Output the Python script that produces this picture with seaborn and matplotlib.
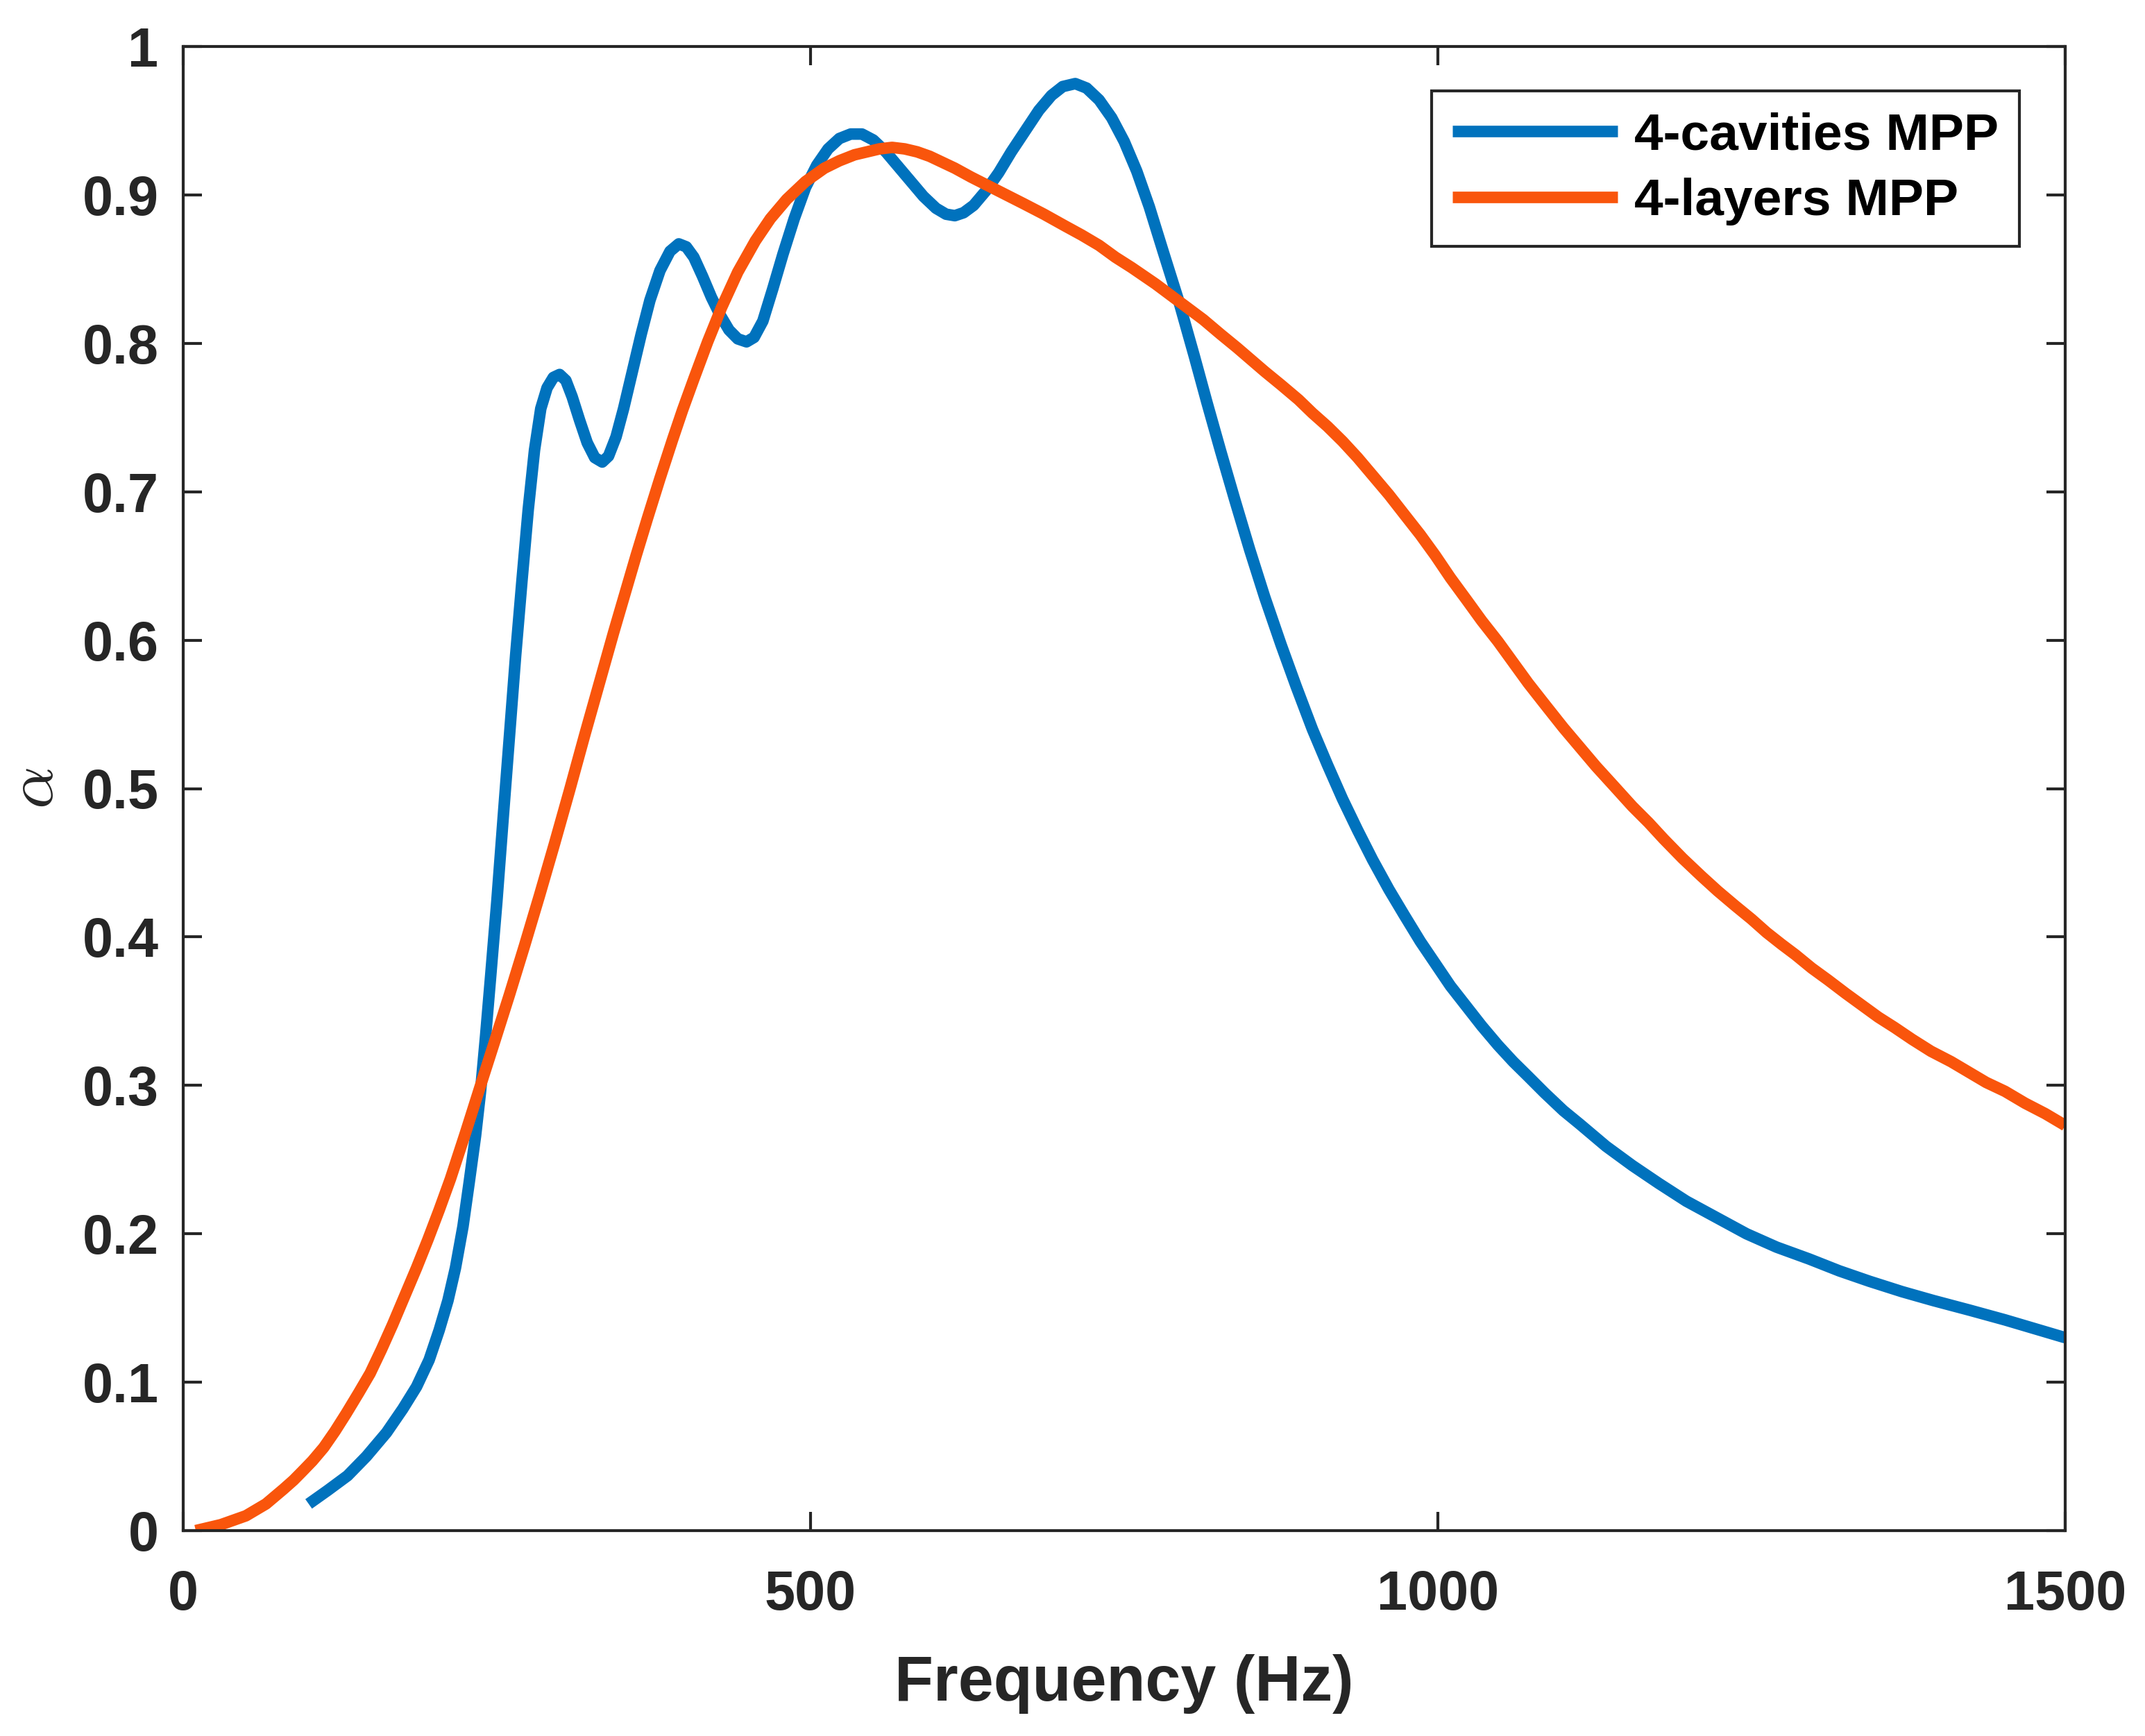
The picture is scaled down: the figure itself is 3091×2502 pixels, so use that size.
import numpy as np
import pandas as pd
import seaborn as sns
import matplotlib
matplotlib.use("Agg")
import matplotlib.pyplot as plt

# ---------------- data ----------------
freq_cavities = [100, 115, 131, 146, 162, 175, 186, 196, 204, 211, 217, 223, 228, 233,
                 237, 241, 245, 250, 255, 260, 265, 270, 275, 280, 285, 290, 295, 300,
                 305, 310, 316, 322, 328, 334, 339, 345, 351, 358, 365, 372, 380, 388,
                 395, 401, 407, 414, 421, 428, 435, 442, 449, 455, 462, 470, 478, 487,
                 496, 505, 514, 523, 532, 541, 550, 560, 570, 580, 590, 600, 608, 615,
                 622, 630, 640, 650, 660, 671, 682, 692, 701, 711, 720, 730, 740, 750,
                 760, 770, 781, 794, 806, 816, 827, 838, 850, 862, 875, 887, 900, 912,
                 924, 936, 948, 961, 973, 986, 998, 1010, 1023, 1035, 1048, 1060, 1072,
                 1085, 1100, 1113, 1134, 1155, 1176, 1198, 1222, 1246, 1270, 1296, 1320,
                 1344, 1370, 1395, 1424, 1452, 1476, 1500]
alpha_cavities = [0.018, 0.027, 0.037, 0.050, 0.066, 0.082, 0.097, 0.115, 0.135, 0.155,
                  0.177, 0.205, 0.235, 0.266, 0.296, 0.333, 0.373, 0.424, 0.480, 0.535,
                  0.590, 0.640, 0.688, 0.728, 0.756, 0.770, 0.777, 0.779, 0.775, 0.764,
                  0.748, 0.733, 0.723, 0.720, 0.724, 0.737, 0.756, 0.781, 0.806, 0.829,
                  0.849, 0.862, 0.867, 0.865, 0.858, 0.845, 0.831, 0.819, 0.809, 0.803,
                  0.801, 0.804, 0.815, 0.837, 0.860, 0.884, 0.905, 0.920, 0.931, 0.938,
                  0.941, 0.941, 0.937, 0.929, 0.919, 0.909, 0.899, 0.891, 0.887, 0.886,
                  0.888, 0.893, 0.903, 0.915, 0.929, 0.943, 0.957, 0.967, 0.973, 0.975,
                  0.972, 0.964, 0.952, 0.936, 0.916, 0.892, 0.862, 0.827, 0.791, 0.760,
                  0.727, 0.695, 0.661, 0.629, 0.597, 0.569, 0.540, 0.516, 0.493, 0.472,
                  0.452, 0.432, 0.415, 0.397, 0.382, 0.367, 0.353, 0.340, 0.327, 0.316,
                  0.306, 0.295, 0.283, 0.274, 0.259, 0.246, 0.234, 0.222, 0.211, 0.200,
                  0.191, 0.183, 0.175, 0.168, 0.161, 0.155, 0.1485, 0.142, 0.136, 0.130]

freq_layers = [10, 20, 30, 40, 50, 58, 66, 73, 80, 88, 95, 103, 112, 121, 130, 140, 149,
               158, 167, 176, 186, 195, 204, 213, 225, 237, 248, 260, 272, 284, 296, 308,
               320, 333, 343, 352, 361, 370, 380, 390, 398, 407, 418, 429, 442, 456, 468,
               481, 496, 511, 523, 535, 545, 555, 565, 575, 585, 595, 605, 615, 628, 642,
               656, 670, 686, 703, 716, 730, 743, 756, 775, 794, 813, 827, 840, 851, 862,
               875, 889, 900, 912, 924, 936, 948, 961, 973, 986, 998, 1010, 1023, 1035,
               1048, 1060, 1072, 1085, 1100, 1113, 1126, 1140, 1155, 1168, 1180, 1195,
               1210, 1223, 1237, 1250, 1262, 1274, 1285, 1298, 1311, 1325, 1338, 1351,
               1364, 1378, 1393, 1409, 1423, 1437, 1452, 1468, 1484, 1500]
alpha_layers = [0.000, 0.002, 0.004, 0.007, 0.010, 0.014, 0.018, 0.023, 0.028, 0.034,
                0.040, 0.047, 0.056, 0.067, 0.079, 0.093, 0.106, 0.122, 0.139, 0.157,
                0.177, 0.196, 0.216, 0.237, 0.268, 0.300, 0.329, 0.361, 0.394, 0.428,
                0.463, 0.499, 0.536, 0.575, 0.605, 0.631, 0.657, 0.682, 0.709, 0.735,
                0.755, 0.776, 0.801, 0.824, 0.848, 0.869, 0.884, 0.897, 0.909, 0.918,
                0.923, 0.927, 0.929, 0.931, 0.932, 0.931, 0.929, 0.926, 0.922, 0.918,
                0.912, 0.906, 0.900, 0.894, 0.887, 0.879, 0.873, 0.866, 0.858, 0.851,
                0.840, 0.828, 0.816, 0.806, 0.797, 0.789, 0.781, 0.772, 0.762, 0.753,
                0.744, 0.734, 0.723, 0.711, 0.698, 0.685, 0.671, 0.657, 0.642, 0.627,
                0.613, 0.599, 0.585, 0.571, 0.557, 0.541, 0.528, 0.515, 0.502, 0.488,
                0.477, 0.466, 0.453, 0.441, 0.431, 0.421, 0.412, 0.403, 0.395, 0.388,
                0.379, 0.371, 0.362, 0.354, 0.346, 0.339, 0.331, 0.323, 0.316, 0.309,
                0.302, 0.296, 0.288, 0.281, 0.273]

series_labels = ["4-cavities MPP", "4-layers MPP"]
x_ticks = [0, 500, 1000, 1500]
y_ticks = [0, 0.1, 0.2, 0.3, 0.4, 0.5, 0.6, 0.7, 0.8, 0.9, 1.0]
y_tick_labels = ["0", "0.1", "0.2", "0.3", "0.4", "0.5", "0.6", "0.7", "0.8", "0.9", "1"]

# ---------------- style ----------------
sns.set_theme(style="white")
plt.rcParams["font.family"] = ["Liberation Sans", "DejaVu Sans"]
plt.rcParams["font.weight"] = "bold"
plt.rcParams["mathtext.fontset"] = "cm"
TXT = "#262626"
BLUE = "#0072BD"
ORANGE = "#F9550C"

fig = plt.figure(figsize=(3091 / 300, 2502 / 300), dpi=300)
ax = fig.add_axes([264 / 3091, 1 - 2206 / 2502, (2976 - 264) / 3091, (2206 - 67) / 2502])

df_cav = pd.DataFrame({"f": freq_cavities, "a": alpha_cavities})
df_lay = pd.DataFrame({"f": freq_layers, "a": alpha_layers})

sns.lineplot(data=df_cav, x="f", y="a", ax=ax, color=BLUE, linewidth=4.0,
             label=series_labels[0], estimator=None, sort=True)
sns.lineplot(data=df_lay, x="f", y="a", ax=ax, color=ORANGE, linewidth=4.0,
             label=series_labels[1], estimator=None, sort=True)
for ln in ax.get_lines():
    ln.set_solid_capstyle("butt")
    ln.set_solid_joinstyle("round")

ax.set_xlim(0, 1500)
ax.set_ylim(0, 1)
ax.set_xticks(x_ticks)
ax.set_xticklabels([str(t) for t in x_ticks])
ax.set_yticks(y_ticks)
ax.set_yticklabels(y_tick_labels)

for sp in ax.spines.values():
    sp.set_visible(True)
    sp.set_color(TXT)
    sp.set_linewidth(1.0)

ax.tick_params(axis="both", which="major", direction="in", length=6.5, width=1.0,
               color=TXT, labelcolor=TXT, labelsize=19, top=True, right=True,
               bottom=True, left=True)
ax.tick_params(axis="x", pad=13.5)
ax.tick_params(axis="y", pad=8.5)
for lab in ax.get_xticklabels() + ax.get_yticklabels():
    lab.set_fontweight("bold")

ax.set_xlabel("Frequency (Hz)", fontsize=22, fontweight="bold", color=TXT)
ax.xaxis.set_label_coords(0.5, -0.083)
ax.set_ylabel(r"$\alpha$", fontsize=23, color=TXT)
ax.yaxis.set_label_coords(-0.062, 0.5)

leg = ax.legend(loc="upper right", bbox_to_anchor=(0.9757, 0.970), borderaxespad=0,
                fontsize=18, frameon=True, fancybox=False, handlelength=3.17,
                handletextpad=0.32, labelspacing=0.35, borderpad=0.40)
leg.get_frame().set_edgecolor(TXT)
leg.get_frame().set_linewidth(1.0)
leg.get_frame().set_facecolor("white")
leg.get_frame().set_alpha(1)
for t in leg.get_texts():
    t.set_fontweight("bold")
    t.set_color("black")
for h in leg.get_lines():
    h.set_linewidth(4.0)

fig.savefig("out.png", dpi=300, facecolor="white")
